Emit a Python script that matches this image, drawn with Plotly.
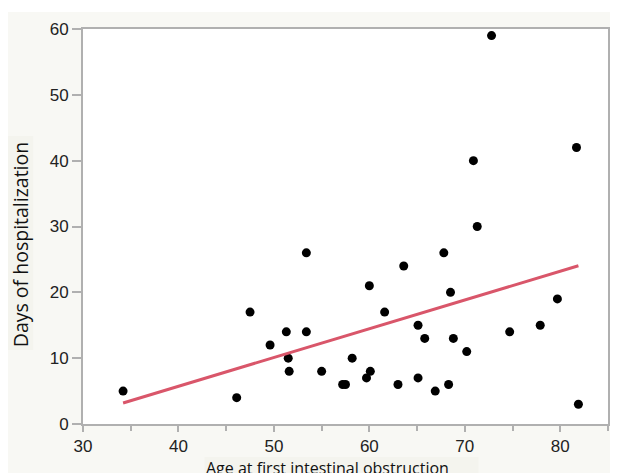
import numpy as np
import plotly.graph_objects as go

# Age at first intestinal obstruction (years)
age = [34.2, 46.1, 47.5, 49.6, 51.3, 51.5, 51.6, 53.4, 53.4, 55.0,
       57.2, 57.5, 58.2, 60.0, 59.7, 60.1, 61.6, 63.0, 63.6, 65.1,
       65.1, 65.8, 66.9, 67.8, 68.3, 68.5, 68.8, 70.2, 70.9, 71.3,
       72.8, 74.7, 77.9, 79.7, 81.7, 81.9]
# Days of hospitalization
days = [5, 4, 17, 12, 14, 10, 8, 26, 14, 8,
        6, 6, 10, 21, 7, 8, 17, 6, 24, 15,
        7, 13, 5, 26, 6, 20, 13, 11, 40, 30,
        59, 14, 15, 19, 42, 3]

x_ticks = [30, 40, 50, 60, 70, 80]
y_ticks = [0, 10, 20, 30, 40, 50, 60]

slope, intercept = np.polyfit(age, days, 1)
fit_x = [min(age), max(age)]
fit_y = [slope * v + intercept for v in fit_x]

# page has an 8px body margin: figure sits at (8, 8)
OFF = 8
W, H = 618 - OFF, 473 - OFF
PL, PR, PT, PB = 83, 610, 29, 424   # plot area in page pixels
L, R, T, B = PL - OFF, OFF + W - PR, PT - OFF, OFF + H - PB

def px(x):
    return (x - PL) / (PR - PL)

def py(y):
    return (PB - y) / (PB - PT)

PANEL = "#f8f8f4"
BOX = "#f4f4ee"
AXIS = "#b0b0b0"

fig = go.Figure()
fig.add_trace(go.Scatter(x=age, y=days, mode="markers",
                         marker=dict(color="black", size=9, line=dict(width=0)),
                         showlegend=False, hoverinfo="skip"))
fig.add_trace(go.Scatter(x=fit_x, y=fit_y, mode="lines",
                         line=dict(color="#d9566a", width=3),
                         showlegend=False, hoverinfo="skip"))

fig.update_layout(
    width=W, height=H,
    margin=dict(l=L, r=R, t=T, b=B),
    paper_bgcolor=PANEL, plot_bgcolor="white",
    font=dict(family="Liberation Sans, Arial", size=17, color="#222"),
    xaxis=dict(range=[30, 85], tickvals=x_ticks, showgrid=False, zeroline=False,
               showline=True, linecolor=AXIS, linewidth=2, mirror=True,
               ticks="outside", ticklen=6, tickcolor=AXIS, tickwidth=1.5,
               minor=dict(dtick=5, tick0=30, ticks="outside", ticklen=5,
                          tickcolor=AXIS, tickwidth=1.5, showgrid=False)),
    yaxis=dict(range=[0, 60], tickvals=y_ticks, showgrid=False, zeroline=False,
               showline=True, linecolor=AXIS, linewidth=2, mirror=True,
               ticks="outside", ticklen=9, tickcolor=AXIS, tickwidth=1.5),
    shapes=[
        dict(type="rect", xref="paper", yref="paper", x0=px(0), x1=px(620), y0=py(0), y1=py(12),
             fillcolor="white", line=dict(width=0), layer="below"),
        dict(type="rect", xref="paper", yref="paper", x0=px(6), x1=px(33), y0=py(136), y1=py(350),
             fillcolor=BOX, line=dict(width=0), layer="below"),
        dict(type="rect", xref="paper", yref="paper", x0=px(205), x1=px(480), y0=py(457), y1=py(475),
             fillcolor=BOX, line=dict(width=0), layer="below"),
    ],
    annotations=[
        dict(text="Days of hospitalization", xref="paper", yref="paper",
             x=px(20), y=py(245), textangle=-90, showarrow=False,
             xanchor="center", yanchor="middle",
             font=dict(family="Open Sans", size=19.5, color="#111")),
        dict(text="Age at first intestinal obstruction", xref="paper", yref="paper",
             x=px(328), y=py(455), showarrow=False, xanchor="center", yanchor="top",
             font=dict(family="Open Sans", size=16, color="#111")),
    ],
)

fig.write_html("out.html")
